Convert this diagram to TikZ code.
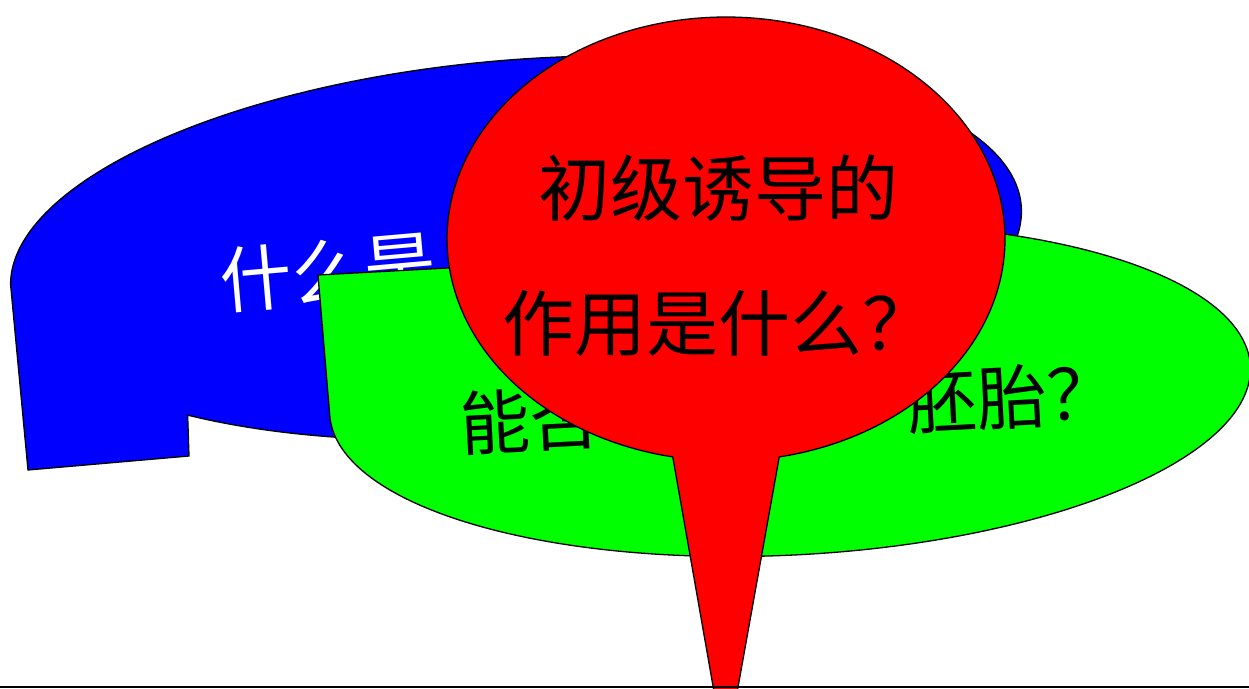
\documentclass[tikz,border=0pt]{standalone}
\usepackage{fontspec}
\newfontfamily\cjk{Noto Sans CJK SC}
\definecolor{blueC}{RGB}{0,0,255}
\definecolor{greenC}{RGB}{0,255,0}
\definecolor{redC}{RGB}{255,0,0}
\begin{document}
\begin{tikzpicture}[x=1pt,y=-1pt,
  outline/.style={draw=black, line width=1.3pt, line join=miter},
  txt/.style={inner sep=0pt, font=\cjk\fontsize{72}{72}\selectfont},
  gtxt/.style={inner sep=0pt, font=\cjk\fontsize{70}{70}\selectfont}]
\useasboundingbox (0,0) rectangle (1249,688);
\clip (0,0) rectangle (1249,688);
% blue callout
\filldraw[outline, fill=blueC]
  plot[domain=182:492.3, samples=220]
  ({516+507*cos(\x)*0.9965+188*sin(\x)*0.0837},{248-507*cos(\x)*0.0837+188*sin(\x)*0.9965})
  -- (189,456) -- (28,470) -- cycle;
\node[txt, text=white, rotate=5] (b1) at (328,272) {什么是};
% green callout
\filldraw[outline, fill=greenC] (318,275)
  -- plot[domain=238:540, samples=220]
  ({790+461*cos(\x)*0.9986+165*sin(\x)*0.0523},{390-461*cos(\x)*0.0523+165*sin(\x)*0.9986})
  -- cycle;
\node[gtxt, rotate=3] (g1) at (530,420) {能否};
\node[gtxt, rotate=3] (g2) at (1012,397) {胚胎？};
% red callout
\filldraw[outline, fill=redC]
  plot[domain=101:439, samples=220] ({726+279*cos(\x)},{239+222*sin(\x)})
  -- (725.5,757) -- cycle;
\node[txt, anchor=west] (r1) at (538,188) {初级诱导的};
\node[txt, anchor=west] (r2) at (502,323) {作用是什么？};
% bottom rule
\coordinate (bl) at (0,687);
\coordinate (br) at (1249,687);
\draw[line width=1.5pt] (bl) -- (br);
\end{tikzpicture}
\end{document}
